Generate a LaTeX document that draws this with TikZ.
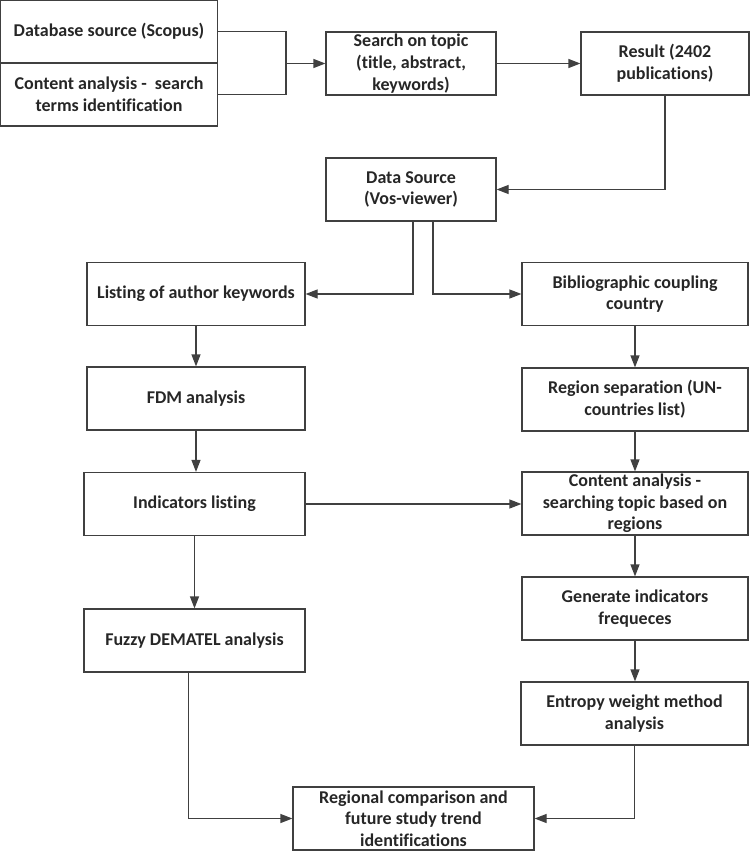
\documentclass[tikz,border=0pt]{standalone}
\usepackage{fontspec}
\setmainfont{Carlito}[Ligatures=NoCommon]
\usetikzlibrary{arrows.meta}
\definecolor{linegray}{HTML}{404040}
\begin{document}
\begin{tikzpicture}[x=1pt,y=-1pt,
  stepbox/.style={draw=linegray, line width=1.2pt, rectangle, align=center, inner sep=0pt,
    minimum height=63pt, font=\fontsize{18}{21.7}\selectfont\bfseries, text=black!85},
  flow/.style={draw=linegray, line width=1.2pt, -{Triangle[length=12pt,width=9pt]}},
  link/.style={draw=linegray, line width=1.2pt}]
\useasboundingbox (0,0) rectangle (751,851);
% top row
\node[stepbox, minimum width=217pt] (dbsrc) at (109,31.5) {Database source (Scopus)};
\node[stepbox, minimum width=217pt] (terms) at (109,94.5) {Content analysis -\ \ search\\terms identification};
\node[stepbox, minimum width=170pt] (search) at (411,63.5) {Search on topic\\(title, abstract,\\keywords)};
\node[stepbox, minimum width=168pt] (result) at (665,63.5) {Result (2402\\publications)};
\node[stepbox, minimum width=170pt] (datasrc) at (411,189.5) {Data Source\\(Vos-viewer)};
\coordinate (join) at (286,63.5);

% left column
\node[stepbox, minimum width=218pt] (keywords) at (196,294) {Listing of author keywords};
\node[stepbox, minimum width=218pt] (fdm) at (196,398.5) {FDM analysis};
\node[stepbox, minimum width=221pt] (indic) at (194.5,504) {Indicators listing};
\node[stepbox, minimum width=221pt] (fuzzy) at (194.5,640.5) {Fuzzy DEMATEL analysis};

% right column
\node[stepbox, minimum width=226pt] (biblio) at (635,294) {Bibliographic coupling\\country};
\node[stepbox, minimum width=226pt] (region) at (635,399.5) {Region separation (UN-\\countries list)};
\node[stepbox, minimum width=226pt] (contreg) at (635,503.5) {Content analysis -\\searching topic based on\\regions};
\node[stepbox, minimum width=226pt] (generate) at (635,608.5) {Generate indicators\\frequeces};
\node[stepbox, minimum width=227pt] (entropy) at (634.5,713.5) {Entropy weight method\\analysis};

% bottom
\node[stepbox, minimum width=241pt] (regional) at (413.5,818.5) {Regional comparison and\\future study trend\\identifications};

\draw[link] (dbsrc.east) -| (join) |- (terms.east);
\draw[flow] (join) -- (search.west);
\draw[flow] (search) -- (result);
\draw[flow] (result.south) |- (datasrc.east);
\draw[flow] ([xshift=2pt]datasrc.south) |- (keywords.east);
\draw[flow] ([xshift=22pt]datasrc.south) |- (biblio.west);
\draw[flow] (keywords) -- (fdm);
\draw[flow] (fdm.south) -- (fdm.south |- indic.north);
\draw[flow] (indic) -- (fuzzy);
\draw[flow] (indic.east) -- (indic.east -| contreg.west);
\draw[flow] (biblio) -- (region);
\draw[flow] (region) -- (contreg);
\draw[flow] (contreg) -- (generate);
\draw[flow] (generate.south) -- (generate.south |- entropy.north);
\draw[flow] ([xshift=-6pt]fuzzy.south) |- (regional.west);
\draw[flow] (entropy.south) |- (regional.east);
\end{tikzpicture}
\end{document}
